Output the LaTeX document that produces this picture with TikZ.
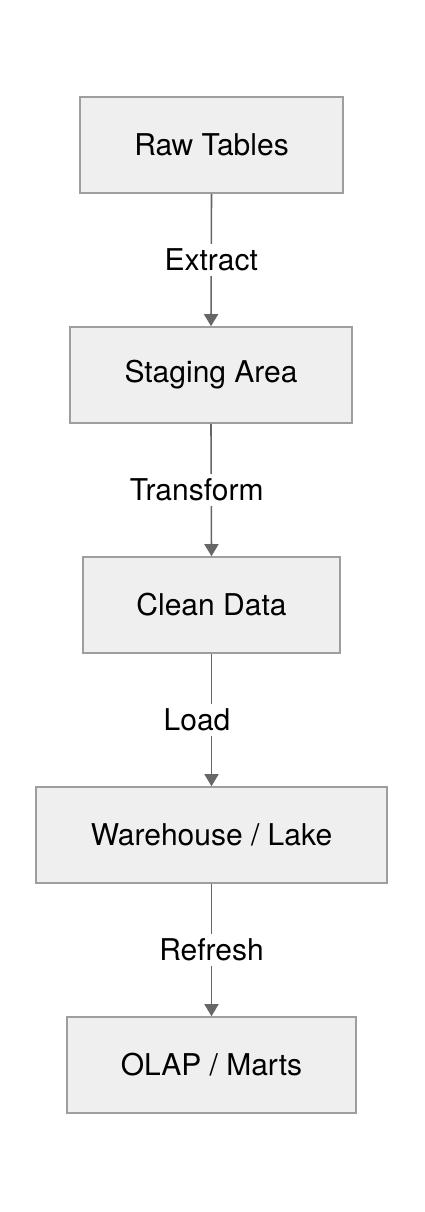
\documentclass[tikz,border=0pt]{standalone}
\usepackage{fontspec}
\setmainfont{TeX Gyre Heros}
\usetikzlibrary{arrows.meta}
\definecolor{boxfill}{HTML}{EFEFEF}
\definecolor{boxline}{HTML}{9E9E9E}
\definecolor{edgecol}{HTML}{666666}
\tikzset{
  stagebox/.style={draw=boxline, fill=boxfill, line width=1.6pt, minimum height=96pt, inner sep=0pt,
    font=\fontsize{30}{34}\selectfont, text=black},
  flow/.style={draw=edgecol, line width=1.6pt, -{Triangle[length=12pt,width=14pt]}},
  lbl/.style={fill=white, font=\fontsize{30}{34}\selectfont, text=black, inner sep=5pt}
}
\begin{document}
\begin{tikzpicture}[x=1pt,y=1pt]
\useasboundingbox (0,0) rectangle (424,-1212);
\node[stagebox, minimum width=263pt] (raw) at (211.5,-145) {Raw Tables};
\node[stagebox, minimum width=282pt] (stg) at (211,-375) {Staging Area};
\node[stagebox, minimum width=257pt] (cln) at (211.5,-605) {Clean Data};
\node[stagebox, minimum width=351pt] (wh) at (211.5,-835) {Warehouse / Lake};
\node[stagebox, minimum width=289pt] (olap) at (211.5,-1065) {OLAP / Marts};
\draw[flow] (raw.south) -- (stg.north) node[lbl, pos=0.5] (l1) {Extract};
\draw[flow] (stg.south) -- (cln.north) node[lbl, pos=0.5, xshift=-14.5pt] (l2) {Transform};
\draw[flow] (cln.south) -- (wh.north) node[lbl, pos=0.5, xshift=-14.5pt] (l3) {Load};
\draw[flow] (wh.south) -- (olap.north) node[lbl, pos=0.5] (l4) {Refresh};
\end{tikzpicture}
\end{document}
